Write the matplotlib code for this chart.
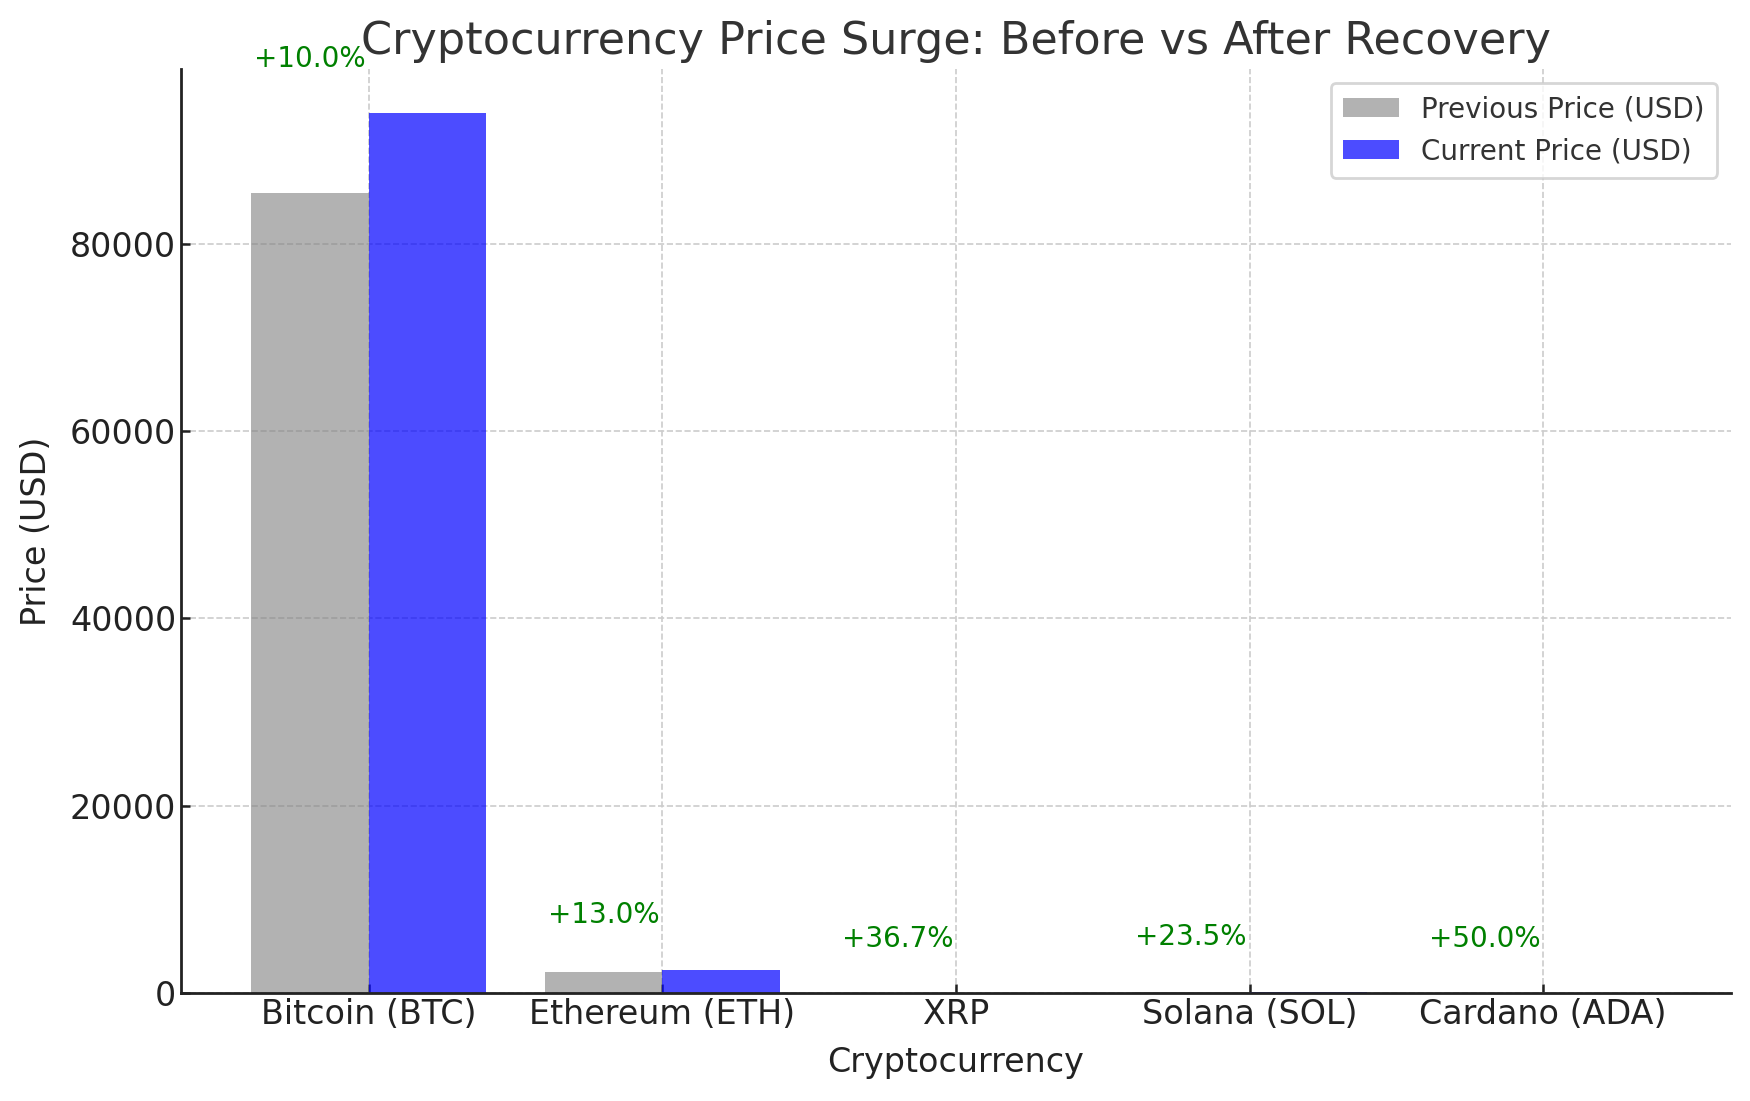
import matplotlib
matplotlib.use("Agg")
import matplotlib.pyplot as plt
import numpy as np

categories = ["Bitcoin (BTC)", "Ethereum (ETH)", "XRP", "Solana (SOL)", "Cardano (ADA)"]
previous_price = [85400, 2200, 1.50, 119, 0.40]
current_price = [93950, 2486, 2.05, 147, 0.60]

pct_change = [(c - p) / p * 100 for p, c in zip(previous_price, current_price)]

plt.rcParams['font.family'] = ['DejaVu Sans']

fig = plt.figure(figsize=(17.5, 11.01), dpi=100)
ax = fig.add_axes([181/1750, 1 - 993/1101, (1731-181)/1750, (993-69)/1101])

x = np.arange(len(categories))
w = 0.4
ax.bar(x - w/2, previous_price, w, color='gray', alpha=0.6, label='Previous Price (USD)')
ax.bar(x + w/2, current_price, w, color='blue', alpha=0.7, label='Current Price (USD)')

for i, (c, pc) in enumerate(zip(current_price, pct_change)):
    ax.text(i - w/2, c + 5800, f"+{pc:.1f}%", ha='center', va='center', color='green', fontsize=20)

ax.set_xticks(x)
ax.set_xticklabels(categories)
ax.set_xlabel("Cryptocurrency", fontsize=24, color='#222222', labelpad=11)
ax.set_ylabel("Price (USD)", fontsize=24, color='#222222', labelpad=12)
ax.set_title("Cryptocurrency Price Surge: Before vs After Recovery", fontsize=32, color='#333333', pad=11)

ax.tick_params(axis='both', labelsize=24, colors='#222222', direction='in', length=6.5, width=1.8)
for s in ['top', 'right']:
    ax.spines[s].set_visible(False)
for s in ['left', 'bottom']:
    ax.spines[s].set_linewidth(2)
    ax.spines[s].set_color('#222222')

ax.grid(True, linestyle='--', color='#cccccc', linewidth=1.2)
ax.set_axisbelow(True)

leg = ax.legend(loc='upper right', fontsize=20, frameon=True, fancybox=True, borderpad=0.45)
leg.get_frame().set_edgecolor('#cccccc')
leg.get_frame().set_linewidth(2)
for t in leg.get_texts():
    t.set_color('#333333')

fig.savefig("out.png", dpi=100)
